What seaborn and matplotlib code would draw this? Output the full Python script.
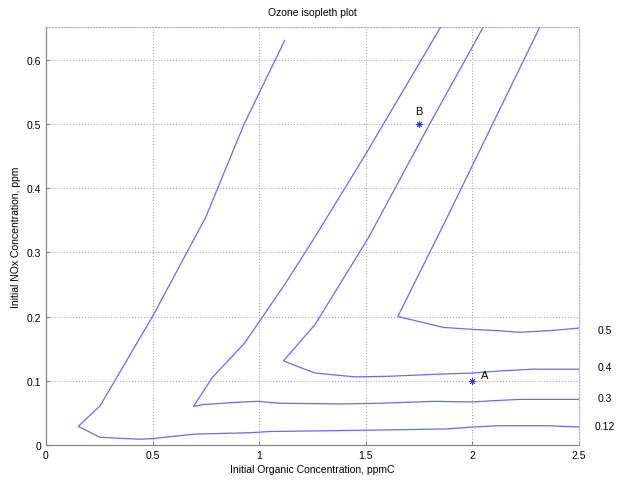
import matplotlib
matplotlib.use('Agg')
import matplotlib.pyplot as plt
import seaborn as sns
import pandas as pd

# isopleth polylines (organic ppmC, NOx ppm)
c012_x = [1.12, 0.93, 0.75, 0.5, 0.254, 0.152, 0.254, 0.44, 0.5, 0.7, 0.95,
          1.05, 1.5, 1.88, 2.0, 2.12, 2.36, 2.5]
c012_y = [0.63, 0.50, 0.355, 0.20, 0.061, 0.029, 0.012, 0.009, 0.010, 0.017,
          0.019, 0.021, 0.023, 0.025, 0.028, 0.030, 0.030, 0.028]

c03_x = [1.85, 1.5, 1.26, 1.12, 0.93, 0.78, 0.692, 0.74, 0.87, 0.99, 1.1,
         1.38, 1.57, 1.82, 2.0, 2.1, 2.22, 2.5]
c03_y = [0.65, 0.453, 0.323, 0.25, 0.158, 0.105, 0.060, 0.063, 0.066, 0.068,
         0.065, 0.064, 0.065, 0.068, 0.067, 0.069, 0.071, 0.071]

c04_x = [2.05, 1.80, 1.513, 1.263, 1.114, 1.19, 1.263, 1.45, 1.61, 1.82,
         2.0, 2.12, 2.28, 2.5]
c04_y = [0.65, 0.50, 0.323, 0.188, 0.131, 0.121, 0.112, 0.106, 0.107, 0.110,
         0.112, 0.115, 0.118, 0.118]

c05_x = [2.315, 2.095, 1.878, 1.65, 1.865, 2.0, 2.12, 2.22, 2.36, 2.5]
c05_y = [0.65, 0.50, 0.352, 0.20, 0.183, 0.180, 0.178, 0.1755, 0.178, 0.182]

levels = ['0.12', '0.3', '0.4', '0.5']
label_y = [0.030, 0.073, 0.121, 0.179]

pts_name = ['A', 'B']
pts_x = [2.0, 1.75]
pts_y = [0.1, 0.5]

frames = []
for lev, xs, ys in zip(levels, [c012_x, c03_x, c04_x, c05_x],
                       [c012_y, c03_y, c04_y, c05_y]):
    frames.append(pd.DataFrame({'x': xs, 'y': ys, 'level': lev}))
df = pd.concat(frames, ignore_index=True)

sns.set_style('white')
plt.rcParams['font.family'] = ['Liberation Sans', 'DejaVu Sans']
plt.rcParams['text.color'] = 'black'

line_col = '#6a6aff'
fig = plt.figure(figsize=(6.2, 4.85), dpi=100)
ax = fig.add_axes([0.074, 0.0804, 0.86, 0.861])

for lev in levels:
    sub = df[df['level'] == lev]
    sns.lineplot(data=sub, x='x', y='y', sort=False, estimator=None,
                 color=line_col, linewidth=0.9, ax=ax)

# matlab style asterisk markers
ax.plot(pts_x, pts_y, linestyle='none', marker=(8, 2, 0), color='#3030ff',
        markersize=4.5, markeredgewidth=0.6)
for name, px, py in zip(pts_name, pts_x, pts_y):
    if name == 'A':
        ax.text(px + 0.04, py + 0.001, name, fontsize=8, va='bottom')
    else:
        ax.text(px - 0.02, py + 0.012, name, fontsize=8, va='bottom')

for lev, ly in zip(levels, label_y):
    ax.text(2.62, ly, lev, fontsize=7.5, ha='center', va='center',
            clip_on=False)

ax.set_xlim(0, 2.5)
ax.set_ylim(0, 0.65)
ax.set_xticks([0, 0.5, 1, 1.5, 2, 2.5])
ax.set_xticklabels(['0', '0.5', '1', '1.5', '2', '2.5'])
ax.set_yticks([0, 0.1, 0.2, 0.3, 0.4, 0.5, 0.6])
ax.set_yticklabels(['0', '0.1', '0.2', '0.3', '0.4', '0.5', '0.6'])
ax.tick_params(direction='in', length=3, labelsize=7.5, color='#888888',
               labelcolor='black', bottom=True, left=True)
ax.grid(True, linestyle=':', color='#aaaaaa', linewidth=0.8)

for side in ['left', 'bottom']:
    ax.spines[side].set_color('#888888')
    ax.spines[side].set_linewidth(0.9)
for side in ['top', 'right']:
    ax.spines[side].set_linestyle(':')
    ax.spines[side].set_color('#aaaaaa')
    ax.spines[side].set_linewidth(0.8)

ax.set_xlabel('Initial Organic Concentration, ppmC', fontsize=7.5,
              labelpad=3, color='black')
ax.set_ylabel('Initial NOx Concentration, ppm', fontsize=7.5, labelpad=4,
              color='black')
ax.set_title('Ozone isopleth plot', fontsize=7.5, pad=9, color='black')

plt.savefig('out.png', dpi=100)
plt.close()
